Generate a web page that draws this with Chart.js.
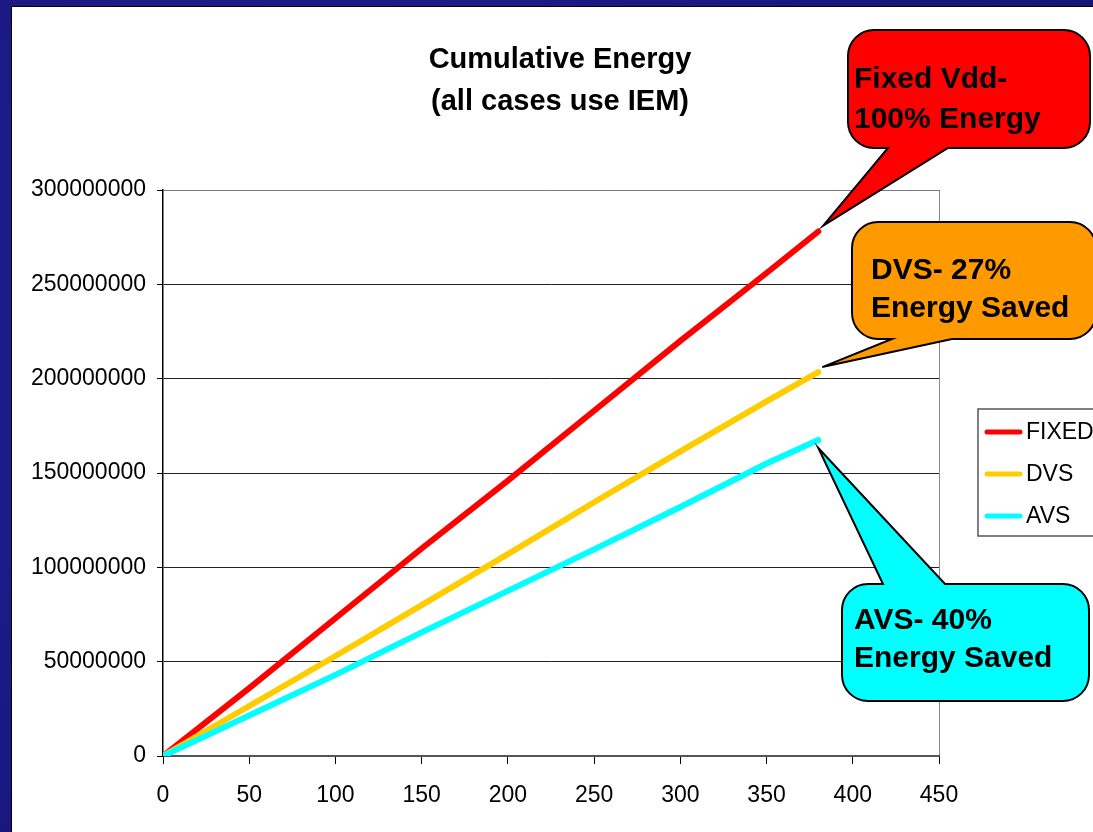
<!DOCTYPE html>
<html>
<head>
<meta charset="utf-8">
<title>Cumulative Energy</title>
<script src="https://cdn.jsdelivr.net/npm/chart.js@4.4.1/dist/chart.umd.min.js"></script>
<style>
    html, body { margin: 0; padding: 0; }
    body {
        width: 1093px;
        height: 832px;
        overflow: hidden;
        position: relative;
        background: radial-gradient(circle at 30% 40%, #211f93 0%, #1a1881 60%, #15136f 100%);
    }
    .painel {
        position: absolute;
        left: 11px;
        top: 6px;
        width: 1082px;
        height: 826px;
        background: #fff;
        border-left: 1px solid #000;
        border-top: 1px solid #000;
        box-sizing: border-box;
    }
    #grafico { position: absolute; left: 0; top: 0; }
</style>
</head>
<body>
<div class="painel"></div>
<canvas id="grafico" width="1093" height="832"></canvas>

<script>
// valores
const tempo        = [0, 50, 100, 150, 200, 250, 300, 350, 380];
const energiaFixed = [0, 36000000, 73000000, 110000000, 146000000, 183000000, 220000000, 256000000, 278000000];
const energiaDvs   = [0, 26500000, 53000000, 80000000, 107000000, 134500000, 161500000, 188000000, 203500000];
const energiaAvs   = [0, 21500000, 43000000, 65500000, 87500000, 109500000, 132000000, 155000000, 167500000];

const nomesSeries = ["FIXED", "DVS", "AVS"];
const coresSeries = ["#ff0000", "#ffcc00", "#00ffff"];

const tituloLinhas = ["Cumulative Energy", "(all cases use IEM)"];
const textosBaloes = [
    ["Fixed Vdd-", "100% Energy"],
    ["DVS- 27%", "Energy Saved"],
    ["AVS- 40%", "Energy Saved"]
];
const coresBaloes = ["#ff0000", "#ff9900", "#00ffff"];

const FONTE = "'Liberation Sans', Arial, Helvetica, sans-serif";

const pontos = serie => tempo.map((t, i) => ({ x: t, y: serie[i] }));

// balões: retângulo, base da ponta e deslocamento da ponta em relação ao fim da linha
const baloes = [
    { l: 848, t: 30,  r: 1090, b: 148, lado: "baixo", b1: 888, b2: 948, dx: 5, dy: -6, tx: 854, linhas: [88, 128] },
    { l: 852, t: 222, r: 1096, b: 339, lado: "baixo", b1: 892, b2: 952, dx: 4, dy: -5, tx: 871, linhas: [279, 317] },
    { l: 842, t: 584, r: 1089, b: 701, lado: "cima",  b1: 883, b2: 945, dx: 0, dy: 8,  tx: 854, linhas: [629, 667] }
];

function desenharBalao(ctx, c, px, py, cor) {
    const rr = 26;
    ctx.beginPath();
    ctx.moveTo(c.l + rr, c.t);
    if (c.lado === "cima") {
        ctx.lineTo(c.b1, c.t);
        ctx.lineTo(px, py);
        ctx.lineTo(c.b2, c.t);
    }
    ctx.lineTo(c.r - rr, c.t);
    ctx.arcTo(c.r, c.t, c.r, c.t + rr, rr);
    ctx.lineTo(c.r, c.b - rr);
    ctx.arcTo(c.r, c.b, c.r - rr, c.b, rr);
    if (c.lado === "baixo") {
        ctx.lineTo(c.b2, c.b);
        ctx.lineTo(px, py);
        ctx.lineTo(c.b1, c.b);
    }
    ctx.lineTo(c.l + rr, c.b);
    ctx.arcTo(c.l, c.b, c.l, c.b - rr, rr);
    ctx.lineTo(c.l, c.t + rr);
    ctx.arcTo(c.l, c.t, c.l + rr, c.t, rr);
    ctx.closePath();
    ctx.fillStyle = cor;
    ctx.fill();
    ctx.lineWidth = 2;
    ctx.strokeStyle = "#000";
    ctx.lineJoin = "miter";
    ctx.stroke();
}

const decoracao = {
    id: "decoracao",
    afterDraw(chart) {
        const { ctx, scales: { x, y } } = chart;
        ctx.save();

        // título
        ctx.fillStyle = "#000";
        ctx.font = "bold 29px " + FONTE;
        ctx.textAlign = "center";
        ctx.textBaseline = "alphabetic";
        ctx.fillText(tituloLinhas[0], 560, 68);
        ctx.fillText(tituloLinhas[1], 560, 110);

        // balões apontando para o fim de cada série
        baloes.forEach((c, i) => {
            const dados = chart.data.datasets[i].data;
            const ultimo = dados[dados.length - 1];
            const px = x.getPixelForValue(ultimo.x) + c.dx;
            const py = y.getPixelForValue(ultimo.y) + c.dy;
            desenharBalao(ctx, c, px, py, coresBaloes[i]);

            ctx.fillStyle = "#000";
            ctx.font = "bold 30px " + FONTE;
            ctx.textAlign = "left";
            textosBaloes[i].forEach((txt, k) => ctx.fillText(txt, c.tx, c.linhas[k]));
        });

        // legenda
        ctx.fillStyle = "#fff";
        ctx.fillRect(978, 409, 130, 127);
        ctx.strokeStyle = "#555";
        ctx.lineWidth = 1.5;
        ctx.strokeRect(978, 409, 130, 127);
        ctx.font = "23px " + FONTE;
        ctx.textBaseline = "middle";
        chart.data.datasets.forEach((ds, i) => {
            const ly = 432 + i * 42;
            ctx.beginPath();
            ctx.moveTo(987, ly);
            ctx.lineTo(1020, ly);
            ctx.strokeStyle = ds.borderColor;
            ctx.lineWidth = 5;
            ctx.lineCap = "round";
            ctx.stroke();
            ctx.fillStyle = "#000";
            ctx.fillText(ds.label, 1026, ly + 1);
        });

        ctx.restore();
    }
};

new Chart(document.getElementById("grafico"), {
    type: "line",
    data: {
        datasets: [
            { label: nomesSeries[0], data: pontos(energiaFixed), borderColor: coresSeries[0], order: 3 },
            { label: nomesSeries[1], data: pontos(energiaDvs),   borderColor: coresSeries[1], order: 2 },
            { label: nomesSeries[2], data: pontos(energiaAvs),   borderColor: coresSeries[2], order: 1 }
        ].map(ds => ({ ...ds, borderWidth: 6, pointRadius: 0, tension: 0, fill: false, borderCapStyle: "round" }))
    },
    options: {
        responsive: false,
        animation: false,
        layout: { padding: { top: 190, right: 154, left: 0, bottom: 0 } },
        plugins: {
            legend: { display: false },
            title: { display: false },
            tooltip: { enabled: false }
        },
        scales: {
            x: {
                type: "linear",
                min: 0,
                max: 450,
                ticks: {
                    stepSize: 50,
                    color: "#000",
                    font: { size: 23, family: FONTE },
                    padding: 18,
                    maxRotation: 0,
                    autoSkip: false
                },
                grid: {
                    color: c => (c.tick && c.tick.value === 450) ? "#8a8a8a" : "rgba(0,0,0,0)",
                    tickColor: "#000",
                    tickLength: 8,
                    lineWidth: 1
                },
                border: { color: "#555", width: 2 },
                afterFit: s => { s.height = 76; }
            },
            y: {
                min: 0,
                max: 300000000,
                ticks: {
                    stepSize: 50000000,
                    color: "#000",
                    font: { size: 23, family: FONTE },
                    padding: 11,
                    callback: v => String(v)
                },
                grid: {
                    color: c => (c.tick && c.tick.value === 300000000) ? "#7a7a7a" : "#222",
                    tickColor: "#000",
                    tickLength: 6,
                    lineWidth: 1
                },
                border: { color: "#000", width: 1.5 },
                afterFit: s => { s.width = 163; }
            }
        }
    },
    plugins: [decoracao]
});
</script>
</body>
</html>
